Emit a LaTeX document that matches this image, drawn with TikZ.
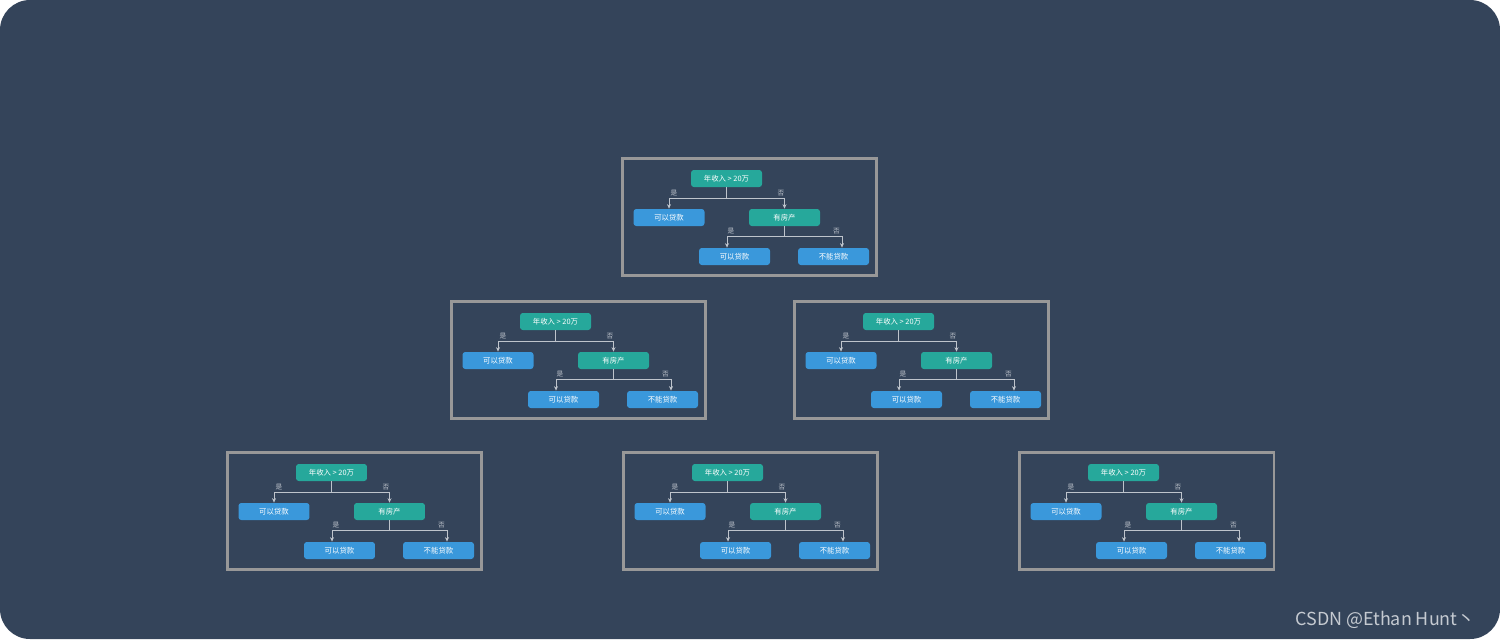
\documentclass[tikz,border=0pt]{standalone}
\usepackage{fontspec}
\setmainfont{Noto Sans CJK SC}
\usetikzlibrary{positioning,arrows.meta}
\definecolor{bgdark}{RGB}{52,68,90}
\definecolor{tealnode}{RGB}{38,168,155}
\definecolor{bluenode}{RGB}{58,152,219}
\definecolor{framegray}{RGB}{152,152,152}
\definecolor{wiregray}{RGB}{190,196,204}
\tikzset{
  cond/.style={rectangle, rounded corners=1.6pt, fill=tealnode, text=white,
               minimum width=1.42cm, minimum height=0.34cm, inner sep=0pt,
               font=\fontsize{4.2}{5}\selectfont},
  leaf/.style={cond, fill=bluenode},
  box/.style={draw=framegray, line width=1.7pt, minimum width=5.1cm,
              minimum height=2.34cm, inner sep=0pt},
  wire/.style={draw=wiregray, line width=0.5pt, -{Stealth[length=0.9mm,width=0.8mm]}},
  ans/.style={font=\fontsize{3.8}{4}\selectfont, text=wiregray, inner sep=0.5pt, anchor=south},
}

\begin{document}
\begin{tikzpicture}[x=0.02cm, y=-0.02cm]
  \useasboundingbox (0,0) rectangle (1500,639);
  \fill[white] (0,0) rectangle (1500,639);
  \fill[bgdark, rounded corners=0.6cm] (0,0) rectangle (1500,639);
  \foreach \i/\x/\y in {1/621/158, 2/450/301, 3/793/301, 4/226/452, 5/622/452, 6/1018/452} {
    \node[box] (f\i) at (\x+128.5,\y+59) {};
    \node[cond] (r\i) at (\x+105.5,\y+20.5) {年收入 > 20万};
    \node[leaf] (a\i) at (\x+48,\y+59.5) {可以贷款};
    \node[cond] (h\i) at (\x+163.5,\y+59.5) {有房产};
    \node[leaf] (b\i) at (\x+113.5,\y+98.5) {可以贷款};
    \node[leaf] (c\i) at (\x+212.5,\y+98.5) {不能贷款};
    \draw[wire] (r\i.south) -- ++(0,10.7) -| (a\i.north);
    \draw[wire] (r\i.south) -- ++(0,10.7) -| (h\i.north);
    \draw[wire] (h\i.south) -- ++(0,10) -| ([xshift=-1.15cm]h\i.south |- b\i.north);
    \draw[wire] (h\i.south) -- ++(0,10) -| ([xshift=1.15cm]h\i.south |- c\i.north);
    \node[ans] (ya\i) at (\x+53,\y+39.2) {是};
    \node[ans] (na\i) at (\x+160,\y+39.2) {否};
    \node[ans] (yb\i) at (\x+110,\y+77.5) {是};
    \node[ans] (nb\i) at (\x+215.5,\y+77.5) {否};
  }
  \node[anchor=west, text=wiregray!90!white, font=\fontsize{10.2}{12}\selectfont,
        inner sep=0pt] (wm) at (1295,620) {CSDN @Ethan Hunt丶};
\end{tikzpicture}
\end{document}
